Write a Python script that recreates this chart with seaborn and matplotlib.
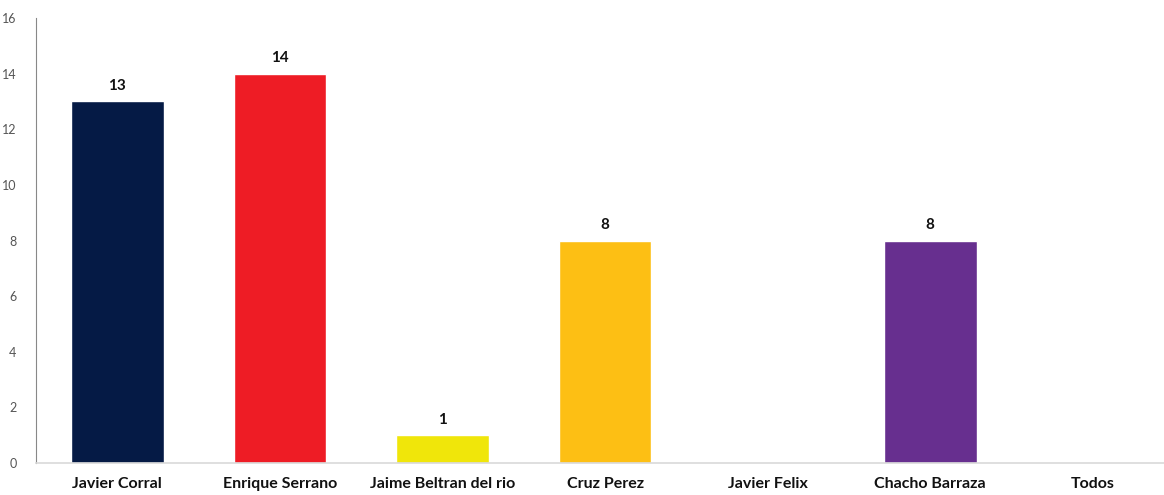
import numpy as np
import pandas as pd
import seaborn as sns
import matplotlib.pyplot as plt

candidates = ['Javier Corral', 'Enrique Serrano', 'Jaime Beltran del rio',
              'Cruz Perez', 'Javier Felix', 'Chacho Barraza', 'Todos']
votes = [13, 14, 1, 8, 0, 8, 0]
bar_colors = ['#051A45', '#EE1C25', '#F0E60A', '#FDBF14',
              '#FFFFFF', '#672F8F', '#FFFFFF']
y_ticks = [0, 2, 4, 6, 8, 10, 12, 14, 16]

sns.set_theme(style='white')
plt.rcParams['font.family'] = ['Lato', 'DejaVu Sans']

df = pd.DataFrame({'candidate': candidates, 'votes': votes})

fig = plt.figure(figsize=(11.64, 4.95), dpi=100)
ax = fig.add_axes([0.031, 0.0646, 0.9777, 0.899])

sns.barplot(data=df, x='candidate', y='votes', hue='candidate',
            palette=bar_colors, width=0.57, legend=False, ax=ax,
            saturation=1)

for i, v in enumerate(votes):
    if v > 0:
        ax.text(i, v + 0.3, str(v), ha='center', va='bottom',
                fontsize=11, fontweight='bold', color='#111111')

ax.set_ylim(0, 16)
ax.set_xlim(-0.5, len(candidates) - 0.5)
ax.set_yticks(y_ticks)
ax.set_xlabel('')
ax.set_ylabel('')
ax.tick_params(axis='y', labelsize=9, colors='#555555', length=0, pad=14)
ax.tick_params(axis='x', labelsize=11.5, length=0, pad=10)
for lbl in ax.get_xticklabels():
    lbl.set_fontweight('bold')
    lbl.set_color('#111111')

sns.despine(ax=ax, top=True, right=True)
ax.spines['left'].set_color('#888888')
ax.spines['left'].set_linewidth(0.8)
ax.spines['bottom'].set_color('#D9D9D9')
ax.spines['bottom'].set_linewidth(1.2)

fig.savefig('out.png', dpi=100)
